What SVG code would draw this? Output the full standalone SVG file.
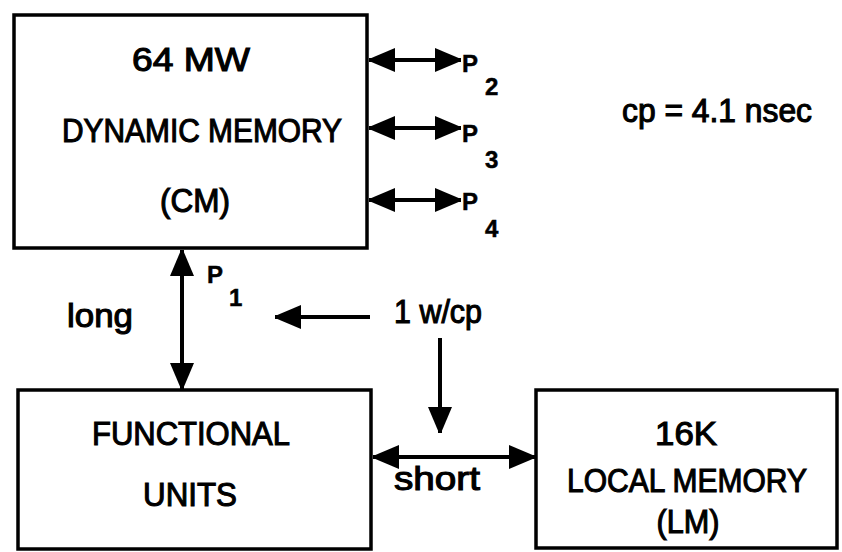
<svg xmlns="http://www.w3.org/2000/svg" width="842" height="552" viewBox="0 0 842 552">
<style>
.box{fill:#fff;stroke:#000;stroke-width:3.5}
.t{font-family:"Liberation Sans",Arial,sans-serif;font-size:33px;fill:#000;stroke:#000;stroke-width:1.1;text-anchor:middle}
.p{font-family:"Liberation Sans",Arial,sans-serif;font-size:24px;font-weight:bold;fill:#000;stroke:#000;stroke-width:0.5}
.ln{stroke:#000;stroke-width:4;fill:none}
.a1{marker-end:url(#ah);marker-start:url(#ah)}
.a2{marker-end:url(#ah)}
</style>
<defs>
<marker id="ah" markerUnits="userSpaceOnUse" markerWidth="27" markerHeight="24" refX="26" refY="12" orient="auto-start-reverse">
<path d="M0,0 L26,11 L26,13 L0,24 z" fill="#000"/>
</marker>
</defs>
<rect width="842" height="552" fill="#fff"/>
<g id="cm">
<rect class="box" x="14" y="15" width="353" height="233"/>
<text class="t" x="191" y="71" textLength="118" lengthAdjust="spacingAndGlyphs">64  MW</text>
<text class="t" x="202" y="142" textLength="280" lengthAdjust="spacingAndGlyphs">DYNAMIC MEMORY</text>
<text class="t" x="195" y="212" textLength="70" lengthAdjust="spacingAndGlyphs">(CM)</text>
</g>
<g id="fu">
<rect class="box" x="18" y="390" width="353" height="159"/>
<text class="t" x="191" y="445" textLength="198" lengthAdjust="spacingAndGlyphs">FUNCTIONAL</text>
<text class="t" x="190" y="506" textLength="94" lengthAdjust="spacingAndGlyphs">UNITS</text>
</g>
<g id="lm">
<rect class="box" x="536" y="390" width="301" height="158"/>
<text class="t" x="686" y="445" textLength="62" lengthAdjust="spacingAndGlyphs">16K</text>
<text class="t" x="687" y="492" textLength="240" lengthAdjust="spacingAndGlyphs">LOCAL MEMORY</text>
<text class="t" x="688" y="533" textLength="63" lengthAdjust="spacingAndGlyphs">(LM)</text>
</g>
<g id="connectors">
<line class="ln a1" x1="369" y1="60" x2="461" y2="60"/>
<line class="ln a1" x1="369" y1="128" x2="461" y2="128"/>
<line class="ln a1" x1="369" y1="200" x2="461" y2="200"/>
<line class="ln a1" x1="182" y1="250" x2="182" y2="389"/>
<line class="ln a2" x1="370" y1="317" x2="275" y2="317"/>
<line class="ln a2" x1="440" y1="338" x2="440" y2="433"/>
<line class="ln a1" x1="373" y1="457" x2="535" y2="457"/>
</g>
<g id="labels">
<text class="p" x="462" y="72">P</text>
<text class="p" x="485" y="95">2</text>
<text class="p" x="462" y="142">P</text>
<text class="p" x="485" y="168">3</text>
<text class="p" x="462" y="210">P</text>
<text class="p" x="485" y="237">4</text>
<text class="p" x="207" y="283">P</text>
<text class="p" x="229" y="306">1</text>
<text class="t" x="100" y="327" textLength="66" lengthAdjust="spacingAndGlyphs">long</text>
<text class="t" x="438" y="323" textLength="88" lengthAdjust="spacingAndGlyphs">1 w/cp</text>
<text class="t" x="437" y="490" textLength="86" lengthAdjust="spacingAndGlyphs">short</text>
<text class="t" x="717" y="122" textLength="190" lengthAdjust="spacingAndGlyphs">cp = 4.1 nsec</text>
</g>
</svg>
